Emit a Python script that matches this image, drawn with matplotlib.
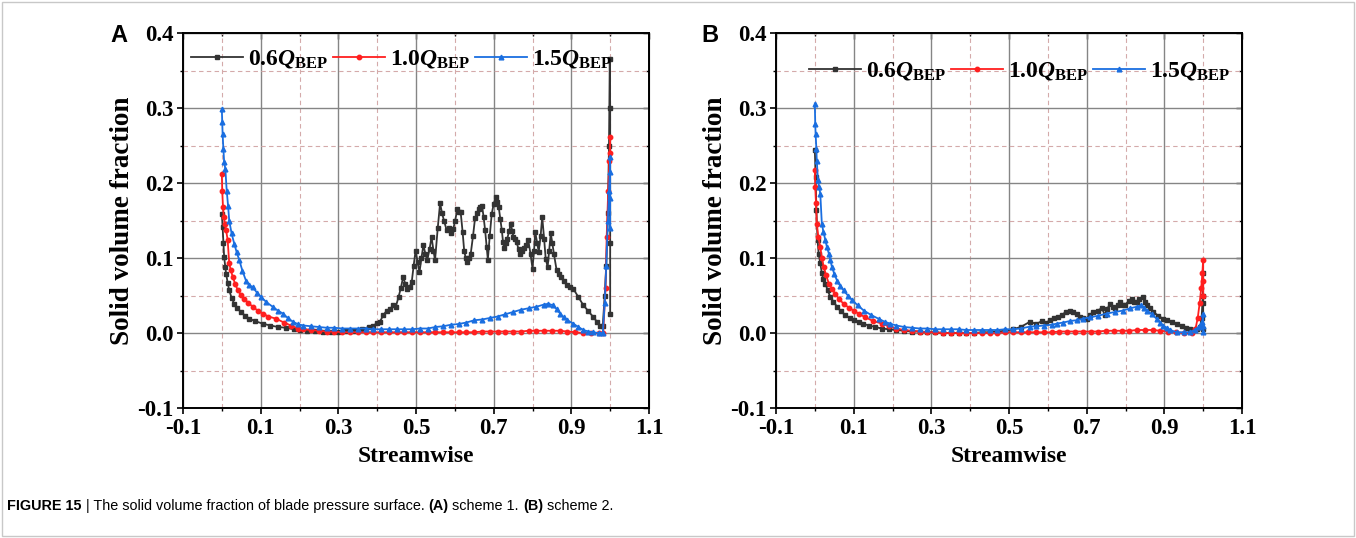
import matplotlib
matplotlib.use("Agg")
import matplotlib.pyplot as plt
from matplotlib.patches import Rectangle
from matplotlib.ticker import MultipleLocator

plt.rcParams["font.family"] = "Liberation Serif"
plt.rcParams["font.weight"] = "bold"
plt.rcParams["mathtext.fontset"] = "custom"
plt.rcParams["mathtext.rm"] = "Liberation Serif:bold"
plt.rcParams["mathtext.it"] = "Liberation Serif:italic:bold"
plt.rcParams["mathtext.bf"] = "Liberation Serif:bold"

LABELS = [r"0.6$\mathit{Q}_{\mathrm{BEP}}$", r"1.0$\mathit{Q}_{\mathrm{BEP}}$", r"1.5$\mathit{Q}_{\mathrm{BEP}}$"]
COLORS = ["#333333", "#ff1f1f", "#1a6ee0"]
MARKERS = ["s", "o", "^"]
MSIZES = [3.5, 3.2, 3.4]

# ---- panel A (scheme 1) ----
A_X_06 = [0.000, 0.002, 0.004, 0.006, 0.009, 0.011, 0.015, 0.019, 0.025, 0.032,
          0.040, 0.049, 0.060, 0.071, 0.085, 0.105, 0.125, 0.145, 0.165, 0.185,
          0.20, 0.22, 0.24, 0.26, 0.28, 0.30, 0.32, 0.34, 0.36, 0.38,
          0.39, 0.40, 0.407, 0.416, 0.425, 0.433, 0.442, 0.448, 0.455, 0.461,
          0.467, 0.472, 0.478, 0.484, 0.489, 0.494, 0.499, 0.504, 0.509, 0.514,
          0.519, 0.524, 0.529, 0.535, 0.540, 0.545, 0.549, 0.556, 0.562, 0.567,
          0.572, 0.579, 0.584, 0.589, 0.596, 0.601, 0.606, 0.611, 0.615, 0.620,
          0.624, 0.628, 0.632, 0.637, 0.641, 0.647, 0.652, 0.657, 0.662, 0.666,
          0.670, 0.674, 0.678, 0.682, 0.685, 0.690, 0.695, 0.700, 0.705, 0.709,
          0.713, 0.717, 0.721, 0.724, 0.727, 0.731, 0.735, 0.740, 0.744, 0.748,
          0.751, 0.755, 0.759, 0.764, 0.768, 0.773, 0.778, 0.784, 0.789, 0.795,
          0.800, 0.804, 0.807, 0.812, 0.816, 0.821, 0.825, 0.830, 0.834, 0.839,
          0.843, 0.847, 0.851, 0.855, 0.862, 0.868, 0.873, 0.880, 0.888, 0.896,
          0.905, 0.918, 0.931, 0.944, 0.957, 0.966, 0.974, 0.981, 0.986, 0.990,
          0.994, 0.997, 0.999, 1.000, 1.000, 1.000]
A_Y_06 = [0.159, 0.141, 0.120, 0.101, 0.088, 0.079, 0.067, 0.057, 0.047, 0.039,
          0.033, 0.028, 0.023, 0.019, 0.016, 0.0125, 0.010, 0.008, 0.007, 0.005,
          0.004, 0.003, 0.003, 0.002, 0.002, 0.002, 0.003, 0.003, 0.005, 0.008,
          0.010, 0.013, 0.015, 0.024, 0.030, 0.032, 0.037, 0.035, 0.048, 0.060,
          0.075, 0.066, 0.059, 0.062, 0.068, 0.090, 0.110, 0.095, 0.081, 0.100,
          0.117, 0.106, 0.097, 0.112, 0.128, 0.110, 0.097, 0.140, 0.173, 0.160,
          0.150, 0.137, 0.140, 0.133, 0.139, 0.150, 0.165, 0.162, 0.161, 0.135,
          0.110, 0.100, 0.095, 0.100, 0.106, 0.130, 0.153, 0.160, 0.165, 0.168,
          0.170, 0.155, 0.137, 0.115, 0.098, 0.130, 0.159, 0.172, 0.181, 0.175,
          0.168, 0.152, 0.137, 0.122, 0.113, 0.120, 0.126, 0.136, 0.146, 0.136,
          0.128, 0.125, 0.121, 0.112, 0.106, 0.110, 0.113, 0.118, 0.124, 0.105,
          0.086, 0.110, 0.135, 0.120, 0.108, 0.130, 0.155, 0.125, 0.099, 0.088,
          0.110, 0.133, 0.120, 0.106, 0.084, 0.079, 0.075, 0.070, 0.064, 0.061,
          0.059, 0.048, 0.037, 0.029, 0.021, 0.015, 0.010, 0.010, 0.050, 0.090,
          0.160, 0.250, 0.365, 0.300, 0.120, 0.025]

A_X_10 = [0.000, 0.001, 0.003, 0.005, 0.008, 0.011, 0.015, 0.019, 0.023, 0.028,
          0.034, 0.041, 0.049, 0.058, 0.068, 0.080, 0.092, 0.105, 0.120, 0.140,
          0.160, 0.178, 0.195, 0.21, 0.23, 0.25, 0.27, 0.29, 0.31, 0.33,
          0.35, 0.37, 0.39, 0.41, 0.43, 0.45, 0.47, 0.49, 0.51, 0.53,
          0.55, 0.57, 0.59, 0.61, 0.63, 0.65, 0.67, 0.69, 0.71, 0.73,
          0.75, 0.77, 0.79, 0.81, 0.83, 0.85, 0.87, 0.89, 0.91, 0.93,
          0.95, 0.97, 0.982, 0.988, 0.991, 0.995, 0.998, 1.000, 1.000]
A_Y_10 = [0.212, 0.190, 0.168, 0.155, 0.145, 0.137, 0.124, 0.093, 0.084, 0.075,
          0.066, 0.057, 0.051, 0.046, 0.040, 0.035, 0.030, 0.026, 0.022, 0.019,
          0.014, 0.010, 0.006, 0.005, 0.004, 0.003, 0.002, 0.002, 0.001, 0.001,
          0.001, 0.001, 0.001, 0.001, 0.001, 0.001, 0.001, 0.001, 0.001, 0.001,
          0.001, 0.001, 0.001, 0.001, 0.001, 0.001, 0.002, 0.002, 0.002, 0.002,
          0.002, 0.002, 0.003, 0.003, 0.003, 0.003, 0.003, 0.002, 0.001, 0.000,
          0.000, 0.000, 0.000, 0.060, 0.128, 0.190, 0.230, 0.262, 0.240]

A_X_15 = [0.000, 0.001, 0.002, 0.004, 0.006, 0.009, 0.0125, 0.016, 0.019, 0.025,
          0.032, 0.038, 0.045, 0.053, 0.062, 0.070, 0.080, 0.090, 0.101, 0.115,
          0.131, 0.144, 0.157, 0.170, 0.183, 0.195, 0.21, 0.23, 0.25, 0.27,
          0.29, 0.31, 0.33, 0.35, 0.37, 0.39, 0.41, 0.43, 0.45, 0.47,
          0.49, 0.51, 0.53, 0.55, 0.57, 0.59, 0.61, 0.63, 0.65, 0.67,
          0.69, 0.71, 0.73, 0.75, 0.77, 0.79, 0.81, 0.83, 0.841, 0.852,
          0.862, 0.871, 0.880, 0.890, 0.905, 0.918, 0.931, 0.944, 0.957, 0.970,
          0.981, 0.986, 0.990, 0.994, 0.997, 0.999, 1.000, 1.000, 1.000]
A_Y_15 = [0.299, 0.281, 0.266, 0.245, 0.228, 0.219, 0.190, 0.170, 0.150, 0.133,
          0.119, 0.108, 0.097, 0.083, 0.070, 0.064, 0.061, 0.054, 0.048, 0.041,
          0.035, 0.030, 0.026, 0.020, 0.015, 0.012, 0.010, 0.009, 0.008, 0.007,
          0.007, 0.006, 0.006, 0.006, 0.006, 0.005, 0.005, 0.005, 0.005, 0.005,
          0.005, 0.006, 0.006, 0.008, 0.009, 0.011, 0.012, 0.014, 0.017, 0.018,
          0.020, 0.022, 0.025, 0.028, 0.031, 0.033, 0.035, 0.038, 0.039, 0.037,
          0.032, 0.026, 0.021, 0.017, 0.0125, 0.008, 0.004, 0.002, 0.001, 0.000,
          0.000, 0.040, 0.090, 0.150, 0.190, 0.215, 0.235, 0.180, 0.140]

# ---- panel B (scheme 2) ----
B_X_06 = [0.000, 0.002, 0.004, 0.007, 0.010, 0.014, 0.018, 0.022, 0.027, 0.033,
          0.040, 0.048, 0.057, 0.067, 0.078, 0.090, 0.101, 0.113, 0.125, 0.140,
          0.156, 0.172, 0.19, 0.21, 0.23, 0.25, 0.27, 0.29, 0.31, 0.33,
          0.35, 0.37, 0.39, 0.41, 0.43, 0.45, 0.47, 0.49, 0.51, 0.53,
          0.554, 0.570, 0.585, 0.596, 0.606, 0.616, 0.626, 0.636, 0.646, 0.657,
          0.666, 0.674, 0.682, 0.690, 0.700, 0.708, 0.717, 0.728, 0.739, 0.747,
          0.753, 0.760, 0.767, 0.773, 0.780, 0.786, 0.793, 0.799, 0.808, 0.816,
          0.822, 0.829, 0.836, 0.844, 0.850, 0.855, 0.863, 0.872, 0.884, 0.897,
          0.908, 0.919, 0.932, 0.945, 0.956, 0.966, 0.975, 0.984, 0.992, 0.996,
          0.999, 1.000, 1.000, 1.000]
B_Y_06 = [0.244, 0.208, 0.164, 0.124, 0.105, 0.093, 0.080, 0.072, 0.066, 0.057,
          0.048, 0.042, 0.035, 0.029, 0.024, 0.020, 0.017, 0.015, 0.012, 0.010,
          0.008, 0.006, 0.005, 0.004, 0.003, 0.002, 0.002, 0.001, 0.001, 0.000,
          0.000, 0.000, 0.000, 0.000, 0.001, 0.001, 0.002, 0.003, 0.005, 0.008,
          0.015, 0.012, 0.016, 0.014, 0.017, 0.020, 0.021, 0.024, 0.028, 0.030,
          0.028, 0.026, 0.022, 0.020, 0.019, 0.024, 0.028, 0.030, 0.033, 0.024,
          0.032, 0.039, 0.035, 0.033, 0.038, 0.041, 0.037, 0.037, 0.043, 0.046,
          0.042, 0.041, 0.046, 0.048, 0.042, 0.037, 0.033, 0.028, 0.023, 0.019,
          0.017, 0.015, 0.012, 0.010, 0.007, 0.005, 0.004, 0.006, 0.008, 0.020,
          0.050, 0.080, 0.040, 0.005]

B_X_10 = [0.000, 0.001, 0.003, 0.005, 0.009, 0.014, 0.018, 0.023, 0.029, 0.036,
          0.044, 0.053, 0.063, 0.074, 0.087, 0.100, 0.115, 0.130, 0.150, 0.173,
          0.19, 0.21, 0.23, 0.25, 0.27, 0.29, 0.31, 0.33, 0.35, 0.37,
          0.39, 0.41, 0.43, 0.45, 0.47, 0.49, 0.51, 0.53, 0.55, 0.57,
          0.59, 0.61, 0.63, 0.65, 0.67, 0.69, 0.71, 0.73, 0.75, 0.77,
          0.79, 0.81, 0.83, 0.85, 0.87, 0.89, 0.91, 0.93, 0.95, 0.97,
          0.980, 0.986, 0.991, 0.995, 0.998, 1.000, 1.000, 1.000]
B_Y_10 = [0.217, 0.195, 0.173, 0.146, 0.128, 0.115, 0.100, 0.088, 0.077, 0.066,
          0.059, 0.052, 0.045, 0.039, 0.034, 0.030, 0.025, 0.021, 0.016, 0.0125,
          0.009, 0.006, 0.004, 0.003, 0.002, 0.001, 0.001, 0.000, 0.000, 0.000,
          0.000, 0.000, 0.000, 0.000, 0.000, 0.001, 0.001, 0.001, 0.001, 0.001,
          0.001, 0.001, 0.002, 0.002, 0.002, 0.002, 0.002, 0.002, 0.003, 0.003,
          0.003, 0.003, 0.004, 0.004, 0.004, 0.003, 0.002, 0.001, 0.000, 0.000,
          0.005, 0.020, 0.040, 0.060, 0.080, 0.098, 0.070, 0.050]

B_X_15 = [0.000, 0.001, 0.002, 0.004, 0.005, 0.008, 0.011, 0.014, 0.018, 0.022,
          0.027, 0.031, 0.036, 0.040, 0.044, 0.050, 0.057, 0.065, 0.074, 0.085,
          0.096, 0.110, 0.126, 0.145, 0.164, 0.180, 0.194, 0.21, 0.23, 0.25,
          0.27, 0.29, 0.31, 0.33, 0.35, 0.37, 0.39, 0.41, 0.43, 0.45,
          0.47, 0.49, 0.51, 0.53, 0.554, 0.57, 0.59, 0.61, 0.623, 0.64,
          0.657, 0.674, 0.69, 0.709, 0.73, 0.752, 0.773, 0.794, 0.812, 0.829,
          0.841, 0.848, 0.855, 0.868, 0.880, 0.889, 0.897, 0.906, 0.915, 0.932,
          0.950, 0.966, 0.978, 0.988, 0.995, 0.998, 1.000, 1.000, 1.000]
B_Y_15 = [0.306, 0.279, 0.266, 0.245, 0.230, 0.204, 0.195, 0.186, 0.146, 0.135,
          0.124, 0.115, 0.106, 0.097, 0.088, 0.079, 0.070, 0.063, 0.057, 0.050,
          0.044, 0.037, 0.030, 0.024, 0.019, 0.015, 0.0125, 0.010, 0.008, 0.007,
          0.006, 0.006, 0.005, 0.005, 0.005, 0.005, 0.004, 0.004, 0.004, 0.004,
          0.004, 0.005, 0.005, 0.006, 0.0085, 0.009, 0.010, 0.011, 0.0125, 0.014,
          0.016, 0.017, 0.019, 0.021, 0.023, 0.026, 0.028, 0.030, 0.033, 0.035,
          0.037, 0.034, 0.030, 0.025, 0.019, 0.014, 0.010, 0.007, 0.004, 0.001,
          0.001, 0.001, 0.004, 0.008, 0.012, 0.015, 0.025, 0.010, 0.002]

PANELS = [
    ("A", [(A_X_06, A_Y_06), (A_X_10, A_Y_10), (A_X_15, A_Y_15)]),
    ("B", [(B_X_06, B_Y_06), (B_X_10, B_Y_10), (B_X_15, B_Y_15)]),
]

W, H = 1356, 538
fig = plt.figure(figsize=(W / 100, H / 100), dpi=100)

axes_px = [(183, 33, 649, 408), (776, 33, 1242, 408)]
letter_px = [(119, 35), (710, 35)]
legend_anchor = [(0.017, 0.930), (0.070, 0.898)]

for (letter, series), (l, t, r, b), (lx, ly), anchor in zip(PANELS, axes_px, letter_px, legend_anchor):
    ax = fig.add_axes([l / W, 1 - b / H, (r - l) / W, (b - t) / H])
    for (xs, ys), c, m, ms, lab in zip(series, COLORS, MARKERS, MSIZES, LABELS):
        ax.plot(xs, ys, color=c, marker=m, ms=ms, lw=1.3, label=lab)

    ax.set_xlim(-0.1, 1.1)
    ax.set_ylim(-0.1, 0.4)
    ax.set_xticks([-0.1, 0.1, 0.3, 0.5, 0.7, 0.9, 1.1])
    ax.set_xticklabels(["-0.1", "0.1", "0.3", "0.5", "0.7", "0.9", "1.1"])
    ax.set_xticks([0.0, 0.2, 0.4, 0.6, 0.8, 1.0], minor=True)
    ax.set_yticks([-0.1, 0.0, 0.1, 0.2, 0.3, 0.4])
    ax.set_yticklabels(["-0.1", "0.0", "0.1", "0.2", "0.3", "0.4"])
    ax.yaxis.set_minor_locator(MultipleLocator(0.05))

    ax.grid(which="major", color="#858585", lw=1.0, ls="-")
    ax.grid(which="minor", color="#d4aaaa", lw=0.8, ls=(0, (4, 3)))
    ax.set_axisbelow(True)

    ax.tick_params(which="major", direction="out", length=4, width=1.2, labelsize=16.5, pad=3)
    ax.tick_params(which="minor", direction="out", length=2.5, width=1.0)
    for lab in ax.get_xticklabels() + ax.get_yticklabels():
        lab.set_fontweight("bold")
    for sp in ax.spines.values():
        sp.set_linewidth(1.4)
        sp.set_color("black")

    top = ax.secondary_xaxis("top")
    top.set_xticks([-0.1, 0.1, 0.3, 0.5, 0.7, 0.9, 1.1])
    top.set_xticks([0.0, 0.2, 0.4, 0.6, 0.8, 1.0], minor=True)
    top.tick_params(which="both", direction="in", labeltop=False, width=1.0)
    top.tick_params(which="major", length=4)
    top.tick_params(which="minor", length=2.5)
    right = ax.secondary_yaxis("right")
    right.set_yticks([-0.1, 0.0, 0.1, 0.2, 0.3, 0.4])
    right.set_yticks([-0.05, 0.05, 0.15, 0.25, 0.35], minor=True)
    right.tick_params(which="both", direction="in", labelright=False, width=1.0)
    right.tick_params(which="major", length=4)
    right.tick_params(which="minor", length=2.5)

    ax.set_xlabel("Streamwise", fontsize=17, fontweight="bold")
    ax.set_ylabel("Solid volume fraction", fontsize=19.5, fontweight="bold")
    ax.xaxis.set_label_coords(0.5, -0.1)
    ax.yaxis.set_label_coords(-0.103, 0.5)

    ax.legend(loc="center left", bbox_to_anchor=anchor, ncol=3, frameon=False,
              handlelength=2.2, handletextpad=0.22, columnspacing=0.2,
              borderaxespad=0, borderpad=0, numpoints=1,
              prop={"family": "Liberation Serif", "weight": "bold", "size": 17})

    fig.text(lx / W, 1 - ly / H, letter, fontsize=17, fontweight="bold",
             family="Liberation Sans", ha="center", va="center")

# caption with mixed bold pieces
renderer = fig.canvas.get_renderer()
pieces = [("FIGURE 15", "bold"), (" | The solid volume fraction of blade pressure surface. ", "normal"),
          ("(A)", "bold"), (" scheme 1. ", "normal"), ("(B)", "bold"), (" scheme 2.", "normal")]
x = 7
for txt, wt in pieces:
    tx = fig.text(x / W, 1 - 506 / H, txt, fontsize=10.4, fontweight=wt,
                  family="Liberation Sans", ha="left", va="center")
    x += tx.get_window_extent(renderer).width

fig.patches.append(Rectangle((0.0015, 0.003), 0.997, 0.994, transform=fig.transFigure,
                             fill=False, ec="#c8c8c8", lw=1.0))

fig.savefig("out.png", dpi=100)
